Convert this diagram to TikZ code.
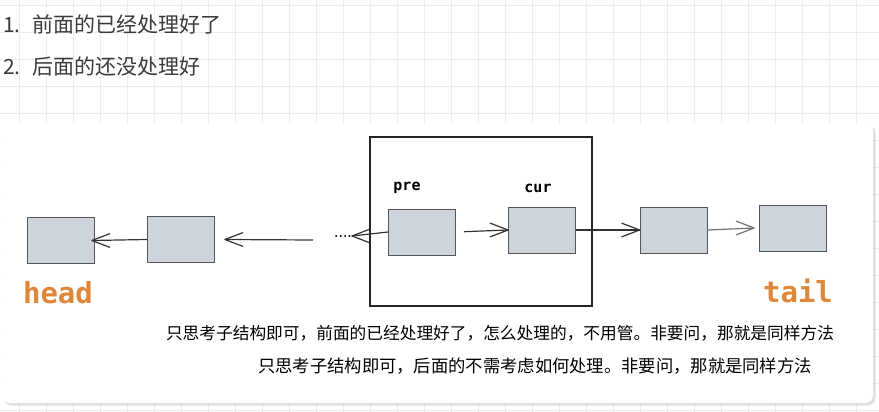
\documentclass[tikz,border=0pt]{standalone}
\usepackage{fontspec}
\newfontfamily\cjk{Noto Sans CJK SC}
\newfontfamily\mono{DejaVu Sans Mono}
\usetikzlibrary{shadows}
\definecolor{gridgray}{HTML}{ECECEC}
\definecolor{boxfill}{HTML}{CED4DC}
\definecolor{boxline}{HTML}{555555}
\definecolor{tagorange}{HTML}{E08638}
\definecolor{toptext}{HTML}{3A3A3A}
\newcommand\barbleft[2][black!80]{\draw[#1,line width=1.2pt,line cap=round] (#2) -- ++(21:19pt) (#2) -- ++(-21:19pt);}
\newcommand\barbright[2][black!80]{\draw[#1,line width=1.2pt,line cap=round] (#2) -- ++(159:19pt) (#2) -- ++(201:19pt);}
\begin{document}
\begin{tikzpicture}[x=1pt,y=-1pt,
    cell/.style={draw=boxline,fill=boxfill,line width=0.9pt,minimum width=67pt,minimum height=46pt,inner sep=0pt},
    tag/.style={font=\mono\bfseries\fontsize{29}{29}\selectfont,text=tagorange,inner sep=0pt},
    ptr/.style={font=\mono\bfseries\fontsize{15}{15}\selectfont,inner sep=0pt},
    link/.style={draw=black!80,line width=1.2pt}]
      \useasboundingbox (0,0) rectangle (879,412);
      \fill[white] (0,0) rectangle (879,412);
      \draw[gridgray,line width=0.8pt,step=27pt,xshift=19pt,yshift=-5pt] (-19,-10) grid (870,420);
      \node (t1) [anchor=west,inner sep=0pt,text=toptext,font=\cjk\fontsize{21}{25}\selectfont] at (3,24) {1.\hspace{12pt}前面的已经处理好了};
      \node (t2) [anchor=west,inner sep=0pt,text=toptext,font=\cjk\fontsize{21}{25}\selectfont] at (3,66) {2.\hspace{12pt}后面的还没处理好};
      \draw[fill=white,rounded corners=8pt,draw=none,drop shadow={shadow xshift=2.5pt,shadow yshift=-2.5pt,opacity=0.25,fill=gray}]
        (1,123) rectangle (873,403);
      \node (win) [draw=black!85,line width=1.1pt,minimum width=222pt,minimum height=169pt] at (481,221.5) {};
      \draw
        (61,240.5) node[cell] (0){}
        (181,239.5) node[cell] (1){}
        (422,232) node[cell] (2){}
        (542,230) node[cell] (3){}
        (673.5,230) node[cell] (4){}
        (793,228) node[cell] (5){};
      \node (pre) [ptr] at (407,188) {pre};
      \node (cur) [ptr] at (538,188) {cur};
      \node (head) [tag] at (58,293) {head};
      \node (tail) [tag] at (798,291) {tail};
      \node (dots) [inner sep=0pt,font=\bfseries\fontsize{14}{14}\selectfont] at (343,236) {....};
      \coordinate (gap) at (313,240);
      \coordinate (tip0) at ([xshift=-3pt]0.east);
      \coordinate (tip1) at ([xshift=10pt]1.east);
      \coordinate (tip4) at ([xshift=-5pt]5.west);
      % links
      \draw[link] (1.west) to (tip0);
      \draw[link] (gap) to (tip1);
      \draw[link] (2.west) to (dots.east);
      \draw[link,shorten <=8pt] (2.east) to (3.west);
      \draw[link] (3.east) to (4.west);
      \draw[link,draw=black!55] (4.east) to (tip4);
      \barbleft{tip0}
      \barbleft{tip1}
      \barbleft{dots.east}
      \barbright{3.west}
      \barbright{4.west}
      \barbright[black!55]{tip4}
      \node (note1) [inner sep=0pt,font=\cjk\fontsize{16.7}{20}\selectfont] at (500,333) {只思考子结构即可，前面的已经处理好了，怎么处理的，不用管。非要问，那就是同样方法};
      \node (note2) [inner sep=0pt,font=\cjk\fontsize{17.3}{20}\selectfont] at (535,366) {只思考子结构即可，后面的不需考虑如何处理。非要问，那就是同样方法};
    \end{tikzpicture}
\end{document}
